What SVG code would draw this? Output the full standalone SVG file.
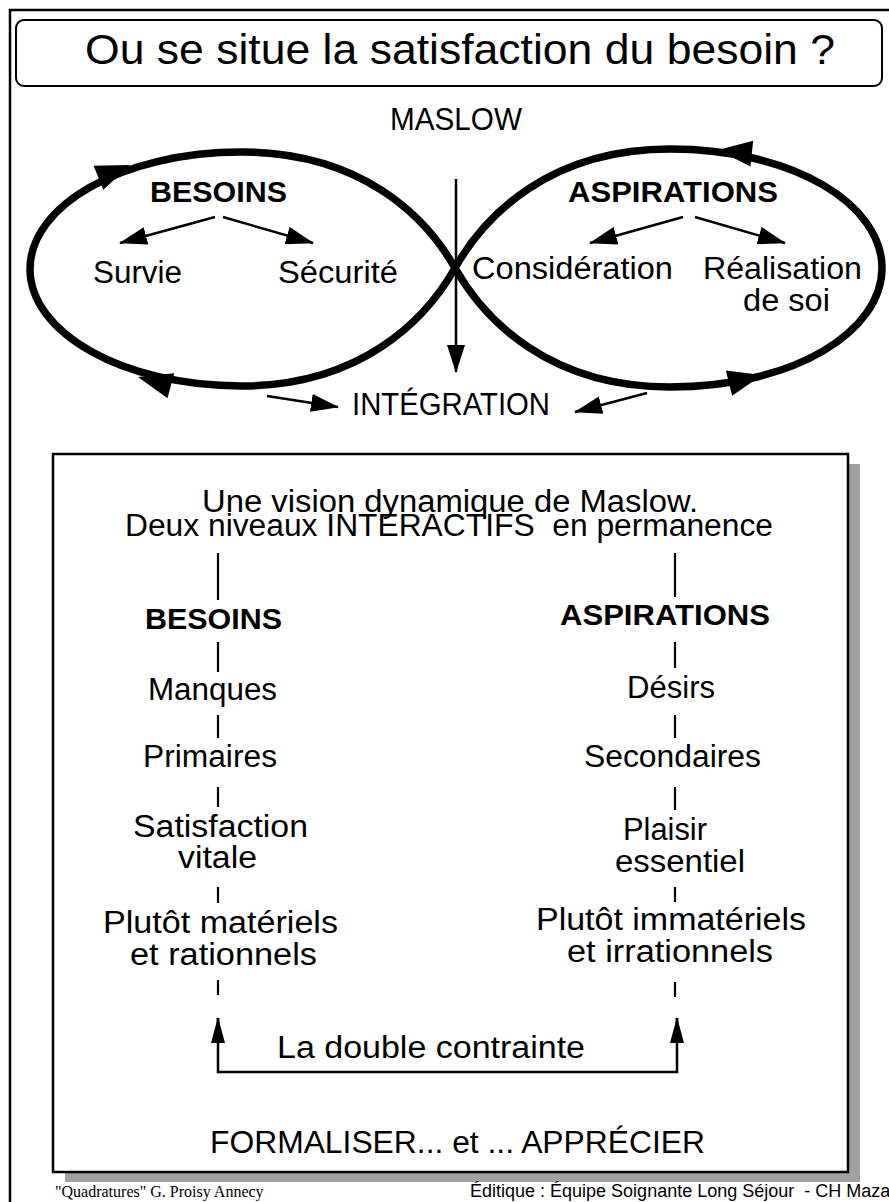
<svg xmlns="http://www.w3.org/2000/svg" xmlns:xlink="http://www.w3.org/1999/xlink" width="889" height="1202" viewBox="0 0 889 1202">
<style>
text{font-family:"Liberation Sans",Arial,Helvetica,sans-serif;fill:#000;}
.t{font-size:31px;}
.b{font-size:29px;font-weight:bold;}
.ln{stroke:#000;stroke-width:2.5;fill:none;}
.dash{stroke:#000;stroke-width:2.2;}
.loop{stroke:#000;stroke-width:7.5;fill:none;stroke-linejoin:round;}
.foot{font-family:"Liberation Serif","Times New Roman",serif;font-size:16px;}
.foot2{font-size:18px;}
</style>
<defs>
<marker id="ah" markerUnits="userSpaceOnUse" markerWidth="28" markerHeight="18" refX="27" refY="9" orient="auto" viewBox="0 0 28 18">
<path d="M0,0 L28,9 L0,18 z" fill="#000"/>
</marker>
<marker id="ahs" markerUnits="userSpaceOnUse" markerWidth="26" markerHeight="14" refX="25" refY="7" orient="auto" viewBox="0 0 26 14">
<path d="M0,0 L26,7 L0,14 z" fill="#000"/>
</marker>
<polygon id="big" points="0,0 -34,-13 -34,13" fill="#000"/>
</defs>

<rect x="10" y="10" width="900" height="1210" fill="#fff" stroke="#000" stroke-width="2.5"/>

<g id="title">
<rect x="16" y="20" width="866" height="66" rx="8" fill="#fff" stroke="#000" stroke-width="2"/>
<text x="85" y="64" font-size="43" textLength="750" lengthAdjust="spacingAndGlyphs">Ou se situe la satisfaction du besoin ?</text>
</g>

<g id="maslow"><text class="t" x="390" y="130" font-size="30" textLength="132" lengthAdjust="spacingAndGlyphs">MASLOW</text></g>

<g id="loops">
<path class="loop" d="M455,268 C425,215 360,152 241,152 C123,152 30,205 30,269 C30,333 123,386 241,386 C360,386 425,321 455,268 Z"/>
<path class="loop" d="M455,268 C485,215 550,149 670,149 C795,149 882,205 882,268 C882,331 795,387 670,387 C550,387 485,321 455,268 Z"/>
<use xlink:href="#big" href="#big" transform="translate(130,165) rotate(-22)"/>
<use xlink:href="#big" href="#big" transform="translate(138,377) rotate(195)"/>
<use xlink:href="#big" href="#big" transform="translate(718,150) rotate(186)"/>
<use xlink:href="#big" href="#big" transform="translate(762,375) rotate(-14)"/>
</g>

<g id="connectors">
<line class="ln" x1="456" y1="179" x2="456" y2="372" marker-end="url(#ah)"/>
<line class="ln" x1="215" y1="217" x2="120" y2="243" marker-end="url(#ah)"/>
<line class="ln" x1="223" y1="217" x2="313" y2="243" marker-end="url(#ah)"/>
<line class="ln" x1="683" y1="217" x2="590" y2="243" marker-end="url(#ah)"/>
<line class="ln" x1="695" y1="217" x2="785" y2="243" marker-end="url(#ah)"/>
<line class="ln" x1="267" y1="396" x2="338" y2="407" marker-end="url(#ah)"/>
<line class="ln" x1="647" y1="393" x2="575" y2="412" marker-end="url(#ah)"/>
</g>

<g id="besoins-top"><text class="b" x="150" y="202" textLength="137" lengthAdjust="spacingAndGlyphs">BESOINS</text></g>
<g id="aspirations-top"><text class="b" x="568" y="202" textLength="210" lengthAdjust="spacingAndGlyphs">ASPIRATIONS</text></g>
<g id="survie"><text class="t" x="93" y="283" textLength="89" lengthAdjust="spacingAndGlyphs">Survie</text></g>
<g id="securite"><text class="t" x="278" y="283" textLength="120" lengthAdjust="spacingAndGlyphs">Sécurité</text></g>
<g id="consideration"><text class="t" x="472" y="279" textLength="201" lengthAdjust="spacingAndGlyphs">Considération</text></g>
<g id="realisation">
<text class="t" x="703" y="279" textLength="159" lengthAdjust="spacingAndGlyphs">Réalisation</text>
<text class="t" x="743" y="311" textLength="87" lengthAdjust="spacingAndGlyphs">de soi</text>
</g>
<g id="integration"><text class="t" x="352" y="415" textLength="198" lengthAdjust="spacingAndGlyphs">INTÉGRATION</text></g>

<g id="box">
<rect x="65" y="464" width="795" height="718" fill="#a0a0a0"/>
<rect x="53" y="454" width="795" height="718" fill="#fff" stroke="#000" stroke-width="2.5"/>
<text class="t" x="202" y="512" textLength="496" lengthAdjust="spacingAndGlyphs">Une vision dynamique de Maslow.</text>
<text class="t" x="125" y="536" textLength="648" lengthAdjust="spacingAndGlyphs" style="white-space:pre">Deux niveaux INTERACTIFS  en permanence</text>
</g>

<g id="col-left">
<text class="b" x="145" y="629" textLength="137" lengthAdjust="spacingAndGlyphs">BESOINS</text>
<text class="t" x="148" y="700" textLength="129" lengthAdjust="spacingAndGlyphs">Manques</text>
<text class="t" x="143" y="767" textLength="134" lengthAdjust="spacingAndGlyphs">Primaires</text>
<text class="t" x="133" y="837" textLength="175" lengthAdjust="spacingAndGlyphs">Satisfaction</text>
<text class="t" x="178" y="868" textLength="79" lengthAdjust="spacingAndGlyphs">vitale</text>
<text class="t" x="103" y="933" textLength="235" lengthAdjust="spacingAndGlyphs">Plutôt matériels</text>
<text class="t" x="130" y="965" textLength="187" lengthAdjust="spacingAndGlyphs">et rationnels</text>
</g>

<g id="col-right">
<text class="b" x="560" y="625" textLength="210" lengthAdjust="spacingAndGlyphs">ASPIRATIONS</text>
<text class="t" x="627" y="698" textLength="88" lengthAdjust="spacingAndGlyphs">Désirs</text>
<text class="t" x="584" y="767" textLength="177" lengthAdjust="spacingAndGlyphs">Secondaires</text>
<text class="t" x="623" y="840" textLength="84" lengthAdjust="spacingAndGlyphs">Plaisir</text>
<text class="t" x="615" y="872" textLength="130" lengthAdjust="spacingAndGlyphs">essentiel</text>
<text class="t" x="536" y="930" textLength="270" lengthAdjust="spacingAndGlyphs">Plutôt immatériels</text>
<text class="t" x="567" y="962" textLength="206" lengthAdjust="spacingAndGlyphs">et irrationnels</text>
</g>

<g id="box-connectors">
<line class="dash" x1="218" y1="553" x2="218" y2="600"/>
<line class="dash" x1="218" y1="642" x2="218" y2="672"/>
<line class="dash" x1="218" y1="715" x2="218" y2="738"/>
<line class="dash" x1="218" y1="787" x2="218" y2="807"/>
<line class="dash" x1="218" y1="887" x2="218" y2="903"/>
<line class="dash" x1="218" y1="980" x2="218" y2="995"/>
<line class="dash" x1="675" y1="553" x2="675" y2="597"/>
<line class="dash" x1="675" y1="642" x2="675" y2="668"/>
<line class="dash" x1="675" y1="715" x2="675" y2="738"/>
<line class="dash" x1="675" y1="787" x2="675" y2="810"/>
<line class="dash" x1="675" y1="887" x2="675" y2="902"/>
<line class="dash" x1="675" y1="982" x2="675" y2="997"/>
<polyline class="ln" points="218,1018 218,1072 677,1072 677,1018" stroke-width="2.5"/>
<line class="ln" x1="218" y1="1040" x2="218" y2="1018" marker-end="url(#ahs)"/>
<line class="ln" x1="677" y1="1040" x2="677" y2="1018" marker-end="url(#ahs)"/>
</g>

<g id="double"><text class="t" x="277" y="1058" textLength="308" lengthAdjust="spacingAndGlyphs">La double contrainte</text></g>
<g id="formaliser"><text class="t" x="210" y="1153" textLength="495" lengthAdjust="spacingAndGlyphs">FORMALISER... et ... APPRÉCIER</text></g>

<g id="footer">
<text class="foot" x="55" y="1197">"Quadratures" G. Proisy Annecy</text>
<text class="foot2" x="470" y="1197" style="white-space:pre">Éditique : Équipe Soignante Long Séjour  - CH Maza</text>
</g>
</svg>
